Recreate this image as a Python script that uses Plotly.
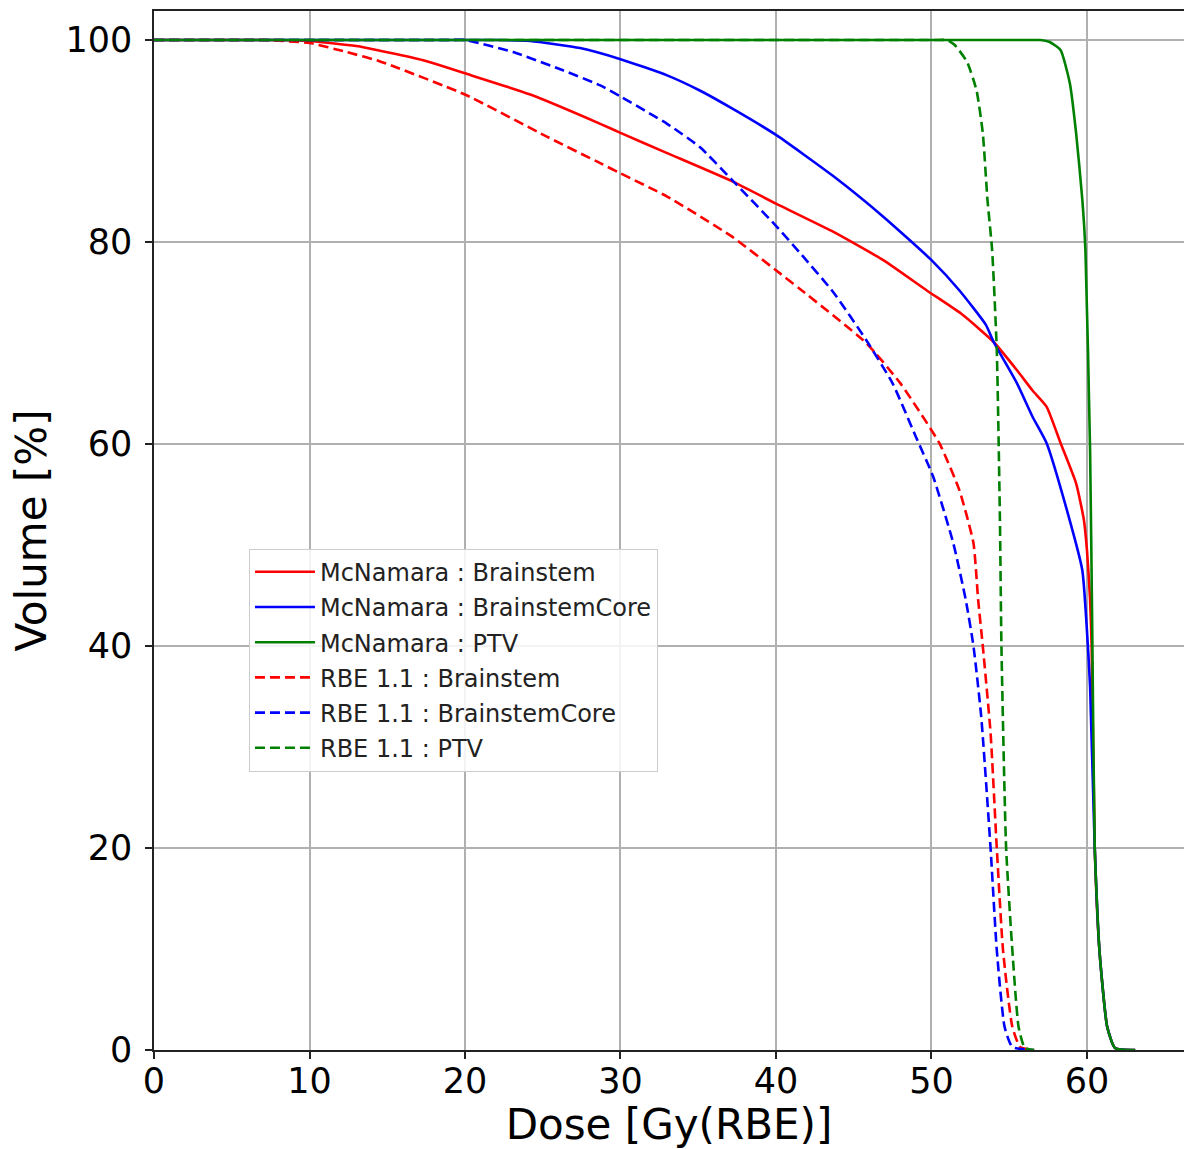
import plotly.graph_objects as go

# ---- data (dose in Gy(RBE), volume in %) ----
mcn_bs_x = [0, 7, 8, 10, 13.0, 17.3, 20, 24.2, 28.7, 30, 33.0, 37.2, 40, 43.7, 46.9, 49.7, 52.0, 54.0,
            55.5, 56.5, 57.4, 58.3, 59.3, 59.8, 60.0, 60.2, 60.3, 60.5, 60.8, 61.3, 61.8, 63.1]
mcn_bs_y = [100, 100, 100, 99.9, 99.4, 98.0, 96.7, 94.6, 91.7, 90.8, 88.8, 86.0, 83.8, 81.0, 78.2, 75.2, 72.8, 70.1,
            67.3, 65.3, 63.7, 60.1, 56.1, 52.5, 49.5, 44.6, 40.0, 20.0, 9.9, 2.3, 0.2, 0]

mcn_core_x = [0, 21, 22, 24.2, 27.4, 30, 33.0, 35.1, 37.2, 40, 43.7, 46.9, 50.0, 51.8, 53.5, 54.0, 55.5, 56.5,
              57.4, 58.7, 59.7, 60.0, 60.2, 60.5, 60.8, 61.3, 61.8, 63.1]
mcn_core_y = [100, 100, 100, 99.9, 99.2, 98.1, 96.5, 95.0, 93.2, 90.6, 86.5, 82.5, 78.2, 75.2, 71.8, 70.1, 66.0, 62.7,
              60.1, 53.5, 47.5, 41.5, 36.0, 20.0, 9.9, 2.3, 0.2, 0]

mcn_ptv_x = [0, 56.5, 57.0, 57.6, 58.3, 58.9, 59.3, 59.7, 59.9, 60.2, 60.35, 60.5, 60.8, 61.3, 61.8, 63.1]
mcn_ptv_y = [100, 100, 100, 99.8, 99.0, 95.7, 90.8, 84.2, 79.2, 59.4, 40.0, 20.0, 9.9, 2.3, 0.2, 0]

rbe_bs_x = [0, 6, 7, 10, 12.4, 14.5, 20, 25.3, 28.7, 30, 33, 37.2, 40, 41.5, 45.8, 48.0, 50.5, 51.8, 52.7,
            53.0, 53.3, 53.8, 54.2, 54.6, 55.2, 55.7, 56.6]
rbe_bs_y = [100, 100, 100, 99.7, 98.8, 97.9, 94.6, 90.4, 87.8, 86.8, 84.5, 80.5, 77.2, 75.4, 70.0, 66.0, 60.1, 55.4,
            50.2, 44.6, 40.0, 31.4, 20.0, 9.9, 2.3, 0.3, 0]

rbe_core_x = [0, 19, 20, 23.1, 26.3, 28.7, 30, 33, 35.1, 37.2, 40, 41.5, 43.7, 45.8, 47.5, 49.0, 50.1, 51.4,
              52.2, 52.7, 53.2, 53.8, 54.2, 54.7, 55.2, 56.6]
rbe_core_y = [100, 100, 100, 98.8, 97.0, 95.5, 94.4, 91.7, 89.4, 86.1, 81.6, 79.0, 75.0, 70.3, 66.0, 60.7, 56.8, 50.2,
              44.6, 40.0, 33.0, 20.0, 9.9, 2.3, 0.3, 0]

rbe_ptv_x = [0, 50.5, 51.0, 51.5, 52.3, 52.9, 53.3, 53.6, 53.9, 54.2, 54.4, 54.5, 54.8, 55.2, 55.6, 56.0, 56.6]
rbe_ptv_y = [100, 100, 100, 99.5, 97.8, 95.0, 90.8, 84.2, 79.2, 69.3, 52.8, 39.9, 20, 9.9, 2.3, 0.2, 0]

series_names = ["McNamara : Brainstem", "McNamara : BrainstemCore", "McNamara : PTV",
                "RBE 1.1 : Brainstem", "RBE 1.1 : BrainstemCore", "RBE 1.1 : PTV"]
series_x = [mcn_bs_x, mcn_core_x, mcn_ptv_x, rbe_bs_x, rbe_core_x, rbe_ptv_x]
series_y = [mcn_bs_y, mcn_core_y, mcn_ptv_y, rbe_bs_y, rbe_core_y, rbe_ptv_y]
series_color = ["#ff0000", "#0000ff", "#008000", "#ff0000", "#0000ff", "#008000"]
series_dash = ["solid", "solid", "solid", "10px,5px", "10px,5px", "10px,5px"]

x_ticks = [0, 10, 20, 30, 40, 50, 60]
y_ticks = [0, 20, 40, 60, 80, 100]

FONT = "DejaVu Sans"

fig = go.Figure()
for i, (n, xs, ys, c, d) in enumerate(zip(series_names, series_x, series_y, series_color, series_dash)):
    fig.add_trace(go.Scatter(x=xs, y=ys, mode="lines", name=n, legendgroup=f"g{i}",
                             line=dict(color=c, width=2.6, dash=d, shape="spline", smoothing=0.5)))

axis_common = dict(
    showgrid=True, gridcolor="#b0b0b0", gridwidth=1.6,
    showline=True, linecolor="#222222", linewidth=1.6,
    ticks="outside", ticklen=7, tickwidth=1.5, tickcolor="#222222",
    tickfont=dict(family=FONT, size=35, color="black"),
    zeroline=False,
)

fig.update_layout(
    width=1184, height=1149,
    margin=dict(l=154, r=0, t=11, b=99),
    paper_bgcolor="white", plot_bgcolor="white",
    font=dict(family=FONT, color="black"),
    showlegend=True,
    legend=dict(
        x=0.0922, y=0.4825, xanchor="left", yanchor="top",
        font=dict(family=FONT, size=24, color="#222222"),
        bgcolor="rgba(255,255,255,0.85)", bordercolor="#cccccc", borderwidth=1,
        tracegroupgap=1, traceorder="grouped", itemwidth=60,
    ),
    xaxis=dict(range=[0, 66.24], tickvals=x_ticks, mirror=True,
               ticklabelstandoff=-8,
               title=dict(text="Dose [Gy(RBE)]", font=dict(family=FONT, size=42), standoff=18),
               **axis_common),
    yaxis=dict(range=[0, 102.87], tickvals=y_ticks,
               title=dict(text="Volume [%]", font=dict(family=FONT, size=42), standoff=6),
               ticklabelstandoff=6,
               **axis_common),
)

fig.write_html("out.html")
